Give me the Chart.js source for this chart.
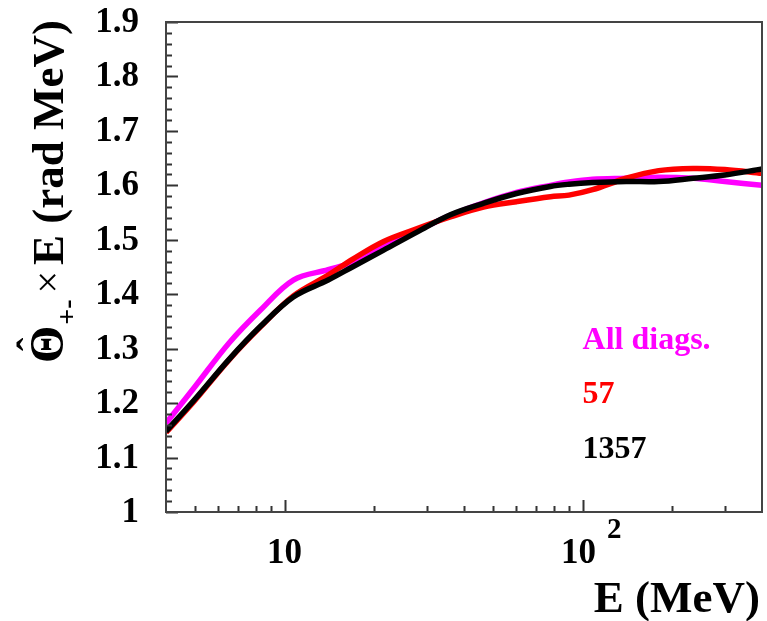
<!DOCTYPE html>
<html>
<head>
<meta charset="utf-8">
<script src="https://cdn.jsdelivr.net/npm/chart.js@4.4.1/dist/chart.umd.min.js"></script>
<style>
  html, body { margin: 0; padding: 0; background: #fff; }
  #wrap { position: relative; width: 767px; height: 621px; }
</style>
</head>
<body>
<div id="wrap"><canvas id="chart"></canvas></div>
<script>
// Energy grid (MeV), shared by the three curves
const energies = [4, 5, 6.5, 8.3, 10.7, 14, 17, 21.5, 28, 36, 46.5, 60, 78, 90, 108, 140, 180, 235, 300, 400];

// Theta_hat(+-) x E in rad MeV
const allDiags  = [1.163, 1.230, 1.310, 1.371, 1.426, 1.445, 1.459, 1.488, 1.517, 1.545, 1.568, 1.587, 1.600, 1.606, 1.611, 1.613, 1.615, 1.613, 1.607, 1.600];
const diags57   = [1.146, 1.205, 1.279, 1.340, 1.397, 1.435, 1.465, 1.497, 1.521, 1.542, 1.560, 1.570, 1.579, 1.582, 1.592, 1.613, 1.627, 1.631, 1.629, 1.622];
const diags1357 = [1.148, 1.207, 1.280, 1.341, 1.395, 1.426, 1.451, 1.481, 1.515, 1.546, 1.567, 1.585, 1.598, 1.602, 1.605, 1.607, 1.607, 1.613, 1.619, 1.630];

// axis ticks
const yMajorTicks = [1, 1.1, 1.2, 1.3, 1.4, 1.5, 1.6, 1.7, 1.8, 1.9];
const yTickLabels = ['1', '1.1', '1.2', '1.3', '1.4', '1.5', '1.6', '1.7', '1.8', '1.9'];
const xMajorTicks = [10, 100];
const xTickLabels = ['10', '10'];
const xTickExponents = ['', '2'];
const xMinorTicks = [5, 6, 7, 8, 9, 20, 30, 40, 50, 60, 70, 80, 90, 200, 300];

const FONT = "'Liberation Serif', 'DejaVu Serif', serif";

const toPoints = (vals) => vals.map((v, i) => ({ x: energies[i], y: v }));

// ROOT-like frame: box, inward ticks, bold serif labels and titles
const frameAxes = {
    id: 'frameAxes',
    afterDatasetsDraw(chart, args, opts) {
        const { ctx, chartArea: a, scales: { x, y } } = chart;
        ctx.save();

        // ticks
        ctx.strokeStyle = '#333';
        ctx.lineWidth = 2;
        ctx.beginPath();
        yMajorTicks.forEach((v, i) => {
            const py = Math.round(y.getPixelForValue(v)) + 0.5;
            ctx.moveTo(a.left, py); ctx.lineTo(a.left + 12, py);
            if (i < yMajorTicks.length - 1) {
                const step = (yMajorTicks[i + 1] - v) / 5;
                for (let k = 1; k < 5; k++) {
                    const pm = Math.round(y.getPixelForValue(v + k * step)) + 0.5;
                    ctx.moveTo(a.left, pm); ctx.lineTo(a.left + 6, pm);
                }
            }
        });
        xMajorTicks.forEach(v => {
            const px = Math.round(x.getPixelForValue(v)) + 0.5;
            ctx.moveTo(px, a.bottom); ctx.lineTo(px, a.bottom - 12);
        });
        xMinorTicks.forEach(v => {
            const px = Math.round(x.getPixelForValue(v)) + 0.5;
            ctx.moveTo(px, a.bottom); ctx.lineTo(px, a.bottom - 6);
        });
        ctx.stroke();

        // frame
        ctx.strokeStyle = '#444';
        ctx.lineWidth = 2;
        ctx.strokeRect(a.left, a.top, a.right - a.left, a.bottom - a.top);

        ctx.fillStyle = '#000';

        // y tick labels
        ctx.font = `bold 35px ${FONT}`;
        ctx.textAlign = 'right';
        ctx.textBaseline = 'middle';
        yMajorTicks.forEach((v, i) => {
            ctx.fillText(yTickLabels[i], a.left - 27, y.getPixelForValue(v) + 1);
        });

        // x tick labels (with optional exponent)
        ctx.textBaseline = 'alphabetic';
        xMajorTicks.forEach((v, i) => {
            const px = x.getPixelForValue(v);
            const base = xTickLabels[i];
            const exp = xTickExponents[i];
            ctx.font = `bold 35px ${FONT}`;
            ctx.textAlign = 'center';
            if (!exp) {
                ctx.fillText(base, px, a.bottom + 51);
                return;
            }
            const wb = ctx.measureText(base).width;
            const cx = px - 4;
            ctx.fillText(base, cx, a.bottom + 51);
            ctx.font = `bold 29px ${FONT}`;
            ctx.textAlign = 'left';
            ctx.fillText(exp, cx + wb / 2 + 11, a.bottom + 26);
        });

        // x title
        ctx.font = `bold 45px ${FONT}`;
        ctx.textAlign = 'right';
        ctx.fillText('E (MeV)', a.right - 2, a.bottom + 100);

        // y title, rotated, ending at the top of the frame
        drawYTitle(ctx, 63, a.top - 2);

        // curve labels
        ctx.font = `bold 32px ${FONT}`;
        ctx.textAlign = 'left';
        opts.labels.forEach(l => {
            ctx.fillStyle = l.color;
            ctx.fillText(l.text, x.getPixelForValue(l.x), y.getPixelForValue(l.y));
        });

        ctx.restore();
    }
};

function drawYTitle(ctx, baseX, endY) {
    const big = `bold 45px ${FONT}`;
    const theta = `bold 48px ${FONT}`;
    const sub = `bold 28px ${FONT}`;
    const times = `40px ${FONT}`;
    ctx.save();
    ctx.translate(baseX, endY);
    ctx.rotate(-Math.PI / 2);
    ctx.textAlign = 'left';
    ctx.textBaseline = 'alphabetic';
    ctx.fillStyle = '#000';

    ctx.font = theta;
    const wTheta = ctx.measureText('\u0398').width;
    ctx.font = big;
    const wRest = ctx.measureText('E (rad MeV)').width;
    ctx.font = sub;
    const wSub = ctx.measureText('+-').width;
    ctx.font = times;
    const wTimes = ctx.measureText('\u00d7').width;
    const gap = 6;
    const total = wTheta + 1 + wSub + gap + wTimes + gap + wRest;

    let cur = -total;
    ctx.font = theta;
    ctx.fillText('\u0398', cur, 0);
    // hat over the Theta
    ctx.font = `bold 40px ${FONT}`;
    const wHat = ctx.measureText('\u02c6').width;
    ctx.fillText('\u02c6', cur + (wTheta - wHat) / 2, -18);
    cur += wTheta + 1;
    ctx.font = sub;
    ctx.fillText('+-', cur, 13);
    cur += wSub + gap;
    ctx.font = times;
    ctx.fillText('\u00d7', cur, -2);
    cur += wTimes + gap;
    ctx.font = big;
    ctx.fillText('E (rad MeV)', cur, 0);
    ctx.restore();
}

new Chart(document.getElementById('chart').getContext('2d'), {
    type: 'line',
    data: {
        datasets: [
            { label: '1357', data: toPoints(diags1357), borderColor: '#000000', order: 0 },
            { label: '57', data: toPoints(diags57), borderColor: '#ff0000', order: 1 },
            { label: 'All diags.', data: toPoints(allDiags), borderColor: '#ff00ff', order: 2 }
        ]
    },
    options: {
        responsive: true,
        maintainAspectRatio: false,
        animation: false,
        layout: { padding: { left: 166, top: 22, right: 5, bottom: 109 } },
        elements: {
            point: { radius: 0 },
            line: { borderWidth: 5.5, tension: 0.35, fill: false, borderJoinStyle: 'round' }
        },
        datasets: { line: { clip: 0 } },
        scales: {
            x: { type: 'logarithmic', min: 4, max: 400, display: false },
            y: { type: 'linear', min: 1, max: 1.9, display: false }
        },
        plugins: {
            legend: { display: false },
            tooltip: { enabled: false },
            frameAxes: {
                labels: [
                    { text: 'All diags.', color: '#ff00ff', x: 100, y: 1.3 },
                    { text: '57', color: '#ff0000', x: 100, y: 1.2 },
                    { text: '1357', color: '#000000', x: 100, y: 1.1 }
                ]
            }
        }
    },
    plugins: [frameAxes]
});
</script>
</body>
</html>
